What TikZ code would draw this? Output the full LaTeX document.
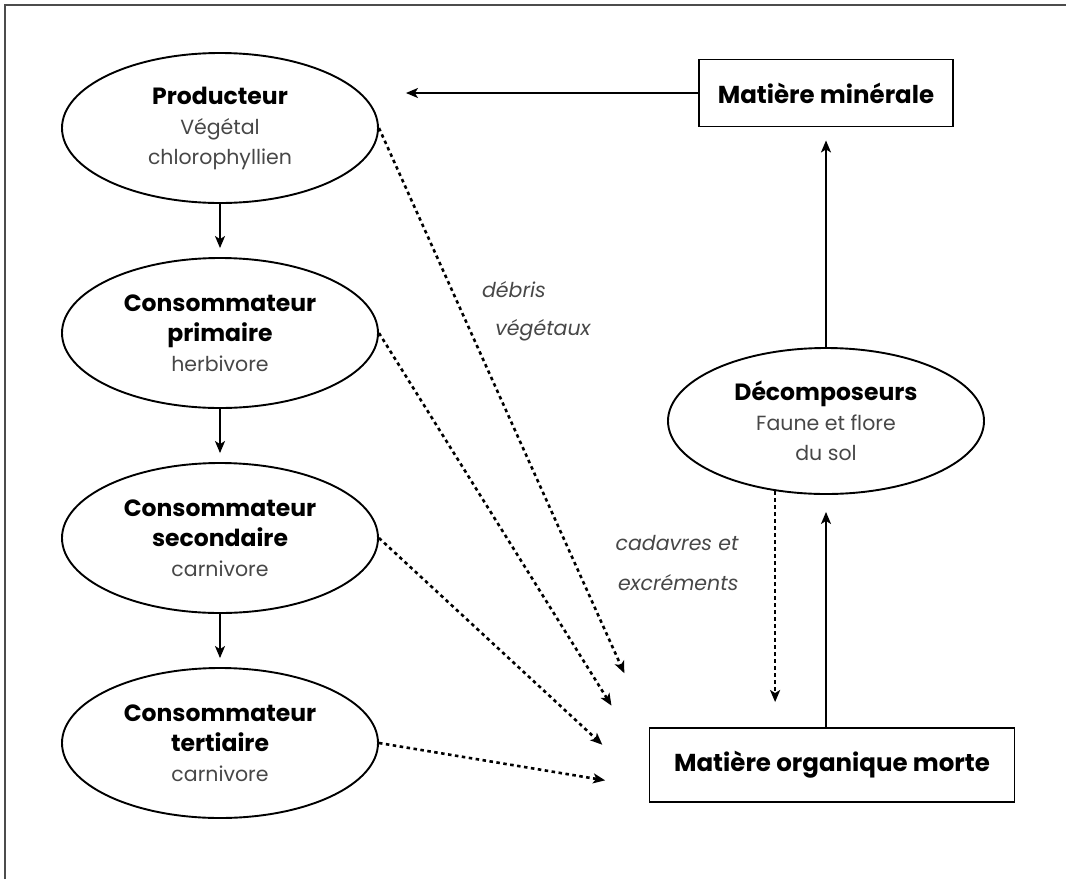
\documentclass[tikz,border=0pt]{standalone}
\usepackage{fontspec}
\setmainfont{Poppins}
\usetikzlibrary{shapes.geometric,arrows.meta,positioning}
\newcommand\greytext[1]{\textcolor{black!72}{\mdseries\fontsize{20.5}{30}\selectfont #1}}

\begin{document}
\begin{tikzpicture}[x=1pt, y=-1pt, node distance=205pt,
    level/.style={draw, ellipse, line width=1.9pt, minimum width=316pt, minimum height=150pt,
      inner sep=0pt, align=center, font=\bfseries\fontsize{23.5}{30}\selectfont},
    pool/.style={draw, rectangle, line width=1.9pt, font=\bfseries\fontsize{24.5}{28}\selectfont},
    flow/.style={-{Stealth[length=12pt,width=10pt,inset=3pt]}, line width=1.8pt},
    waste/.style={-{Stealth[length=12pt,width=10pt,inset=3pt]}, line width=2.6pt, dash pattern=on 3.5pt off 3.5pt},
    note/.style={font=\itshape\fontsize{20.5}{24}\selectfont, text=black!72}]
    \useasboundingbox (0,0) rectangle (1066,879);
    \draw[line width=1.5pt, black!70] (5,879) -- (5,5) -- (1066,5);
    % food chain
    \node[level] (prod) at (220,128) {Producteur\\\greytext{Végétal}\\\greytext{chlorophyllien}};
    \node[level] (prim) [below of=prod] {Consommateur\\primaire\\\greytext{herbivore}};
    \node[level] (sec) [below of=prim] {Consommateur\\secondaire\\\greytext{carnivore}};
    \node[level] (ter) [below of=sec] {Consommateur\\tertiaire\\\greytext{carnivore}};
    % soil side
    \node[pool, minimum width=254pt, minimum height=67pt] (min) at (826,93) {Matière minérale};
    \node[level, minimum height=146pt] (dec) at (826,421) {Décomposeurs\\\greytext{Faune et flore}\\\greytext{du sol}};
    \node[pool, minimum width=365pt, minimum height=74pt] (mom) at (832,765) {Matière organique morte};
    \node[note] (deb) at (514,290) {débris};
    \node[note] (veg) at (543,330) {végétaux};
    \node[note, anchor=east] (cad) at (742,543) {cadavres et};
    \node[note, anchor=east] (exc) at (742,583) {excréments};
    \draw[flow, shorten >=9pt] (prod) -- (prim);
    \draw[flow, shorten >=9pt] (prim) -- (sec);
    \draw[flow, shorten >=9pt] (sec) -- (ter);
    \draw[flow, shorten >=27pt] (min.west) -- (min.west -| prod.east);
    \draw[flow, shorten >=13pt] (dec) -- (min);
    \draw[flow, shorten >=17pt] (dec.south |- mom.north) -- (dec.south);
    \draw[waste, shorten >=25pt] (dec.234) -- (dec.234 |- mom.north);
    \draw[waste, shorten >=59pt] (prod.east) -- (mom.north west);
    \draw[waste, shorten >=70pt] (prim.east) -- (mom.west);
    \draw[waste, shorten >=63pt] (sec.east) -- (mom.187);
    \draw[waste, shorten >=44pt] (ter.east) -- (mom.187);
\end{tikzpicture}
\end{document}
